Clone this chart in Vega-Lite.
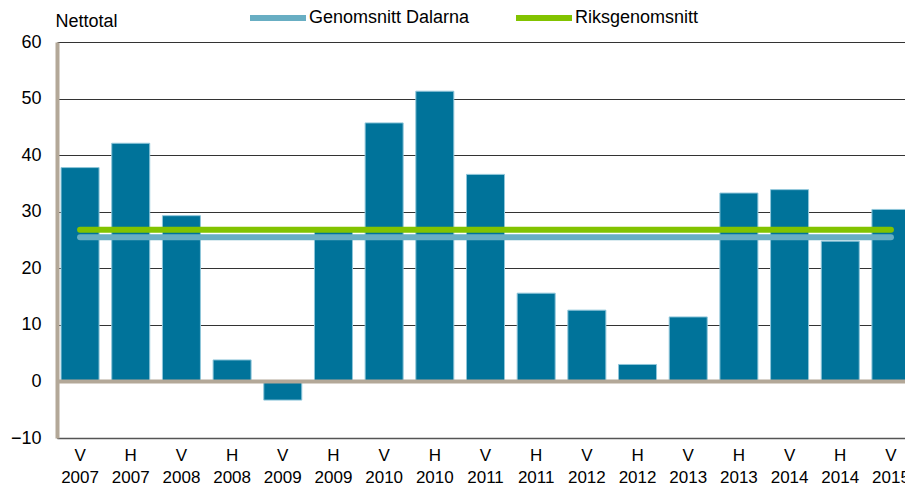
{
  "$schema": "https://vega.github.io/schema/vega-lite/v6.json",
  "autosize": {"type": "none"},
  "padding": {"left": 57, "top": 42, "right": 0, "bottom": 52},
  "width": 848,
  "height": 396,
  "background": "white",
  "config": {
    "view": {"stroke": null},
    "font": "Liberation Sans",
    "axis": {"labelFont": "Liberation Sans", "labelColor": "#000", "labelFontSize": 18}
  },
  "datasets": {
    "bars": [
      {"period": "V 2007", "value": 37.8},
      {"period": "H 2007", "value": 42.1},
      {"period": "V 2008", "value": 29.3},
      {"period": "H 2008", "value": 3.8},
      {"period": "V 2009", "value": -3.3},
      {"period": "H 2009", "value": 26.9},
      {"period": "V 2010", "value": 45.7},
      {"period": "H 2010", "value": 51.3},
      {"period": "V 2011", "value": 36.6},
      {"period": "H 2011", "value": 15.6},
      {"period": "V 2012", "value": 12.6},
      {"period": "H 2012", "value": 3.0},
      {"period": "V 2013", "value": 11.4},
      {"period": "H 2013", "value": 33.3},
      {"period": "V 2014", "value": 33.9},
      {"period": "H 2014", "value": 24.8},
      {"period": "V 2015", "value": 30.4}
    ],
    "averages": [
      {"series": "Genomsnitt Dalarna", "start": "V 2007", "end": "V 2015", "value": 25.5},
      {"series": "Riksgenomsnitt", "start": "V 2007", "end": "V 2015", "value": 26.8}
    ]
  },
  "layer": [
    {
      "data": {"name": "bars"},
      "mark": {"type": "bar", "color": "#00739A", "stroke": "#8FC6DA", "strokeWidth": 1},
      "encoding": {
        "x": {
          "field": "period", "type": "nominal", "sort": null,
          "scale": {"range": [0, 857], "paddingInner": 0.25, "paddingOuter": 0.08},
          "axis": {
            "title": null, "labelAngle": 0, "ticks": false,
            "labelExpr": "split(datum.label, ' ')",
            "labelFont": "Liberation Sans",
            "labelFontSize": 17, "labelLineHeight": 22, "labelPadding": 9,
            "labelBaseline": "top", "labelOverlap": false,
            "domainColor": "#555555", "domainWidth": 1.5
          }
        },
        "y": {
          "field": "value", "type": "quantitative",
          "scale": {"domain": [-10, 60], "nice": false, "zero": false},
          "axis": {
            "values": [-10, 0, 10, 20, 30, 40, 50, 60],
            "title": "Nettotal", "titleAngle": 0, "titleAlign": "left",
            "titleBaseline": "bottom", "titleX": -2, "titleY": -12,
            "titleFont": "Liberation Sans", "titleFontSize": 18, "titleFontWeight": "normal", "titleColor": "#000",
            "ticks": false, "labelPadding": 16,
            "domainColor": "#B3A898", "domainWidth": 4,
            "grid": true, "gridColor": "#333333", "gridWidth": 1
          }
        }
      }
    },
    {
      "data": {"values": [{"y": 0}]},
      "mark": {"type": "rule", "color": "#B3A898", "strokeWidth": 4},
      "encoding": {"y": {"field": "y", "type": "quantitative"}}
    },
    {
      "data": {"name": "averages"},
      "mark": {"type": "rule", "strokeWidth": 6, "strokeCap": "round"},
      "encoding": {
        "x": {"field": "start", "type": "nominal", "sort": null},
        "x2": {"field": "end"},
        "y": {"field": "value", "type": "quantitative"},
        "color": {
          "field": "series", "type": "nominal",
          "scale": {"domain": ["Genomsnitt Dalarna", "Riksgenomsnitt"], "range": ["#68AEC3", "#82C300"]},
          "legend": {
            "title": null, "orient": "none", "direction": "horizontal",
            "legendX": 190, "legendY": -55,
            "symbolType": "stroke", "symbolStrokeWidth": 6, "symbolSize": 3136,
            "labelFont": "Liberation Sans", "labelFontSize": 18, "labelColor": "#000",
            "labelLimit": 400, "labelOffset": 0, "columnPadding": 34
          }
        }
      }
    }
  ]
}
